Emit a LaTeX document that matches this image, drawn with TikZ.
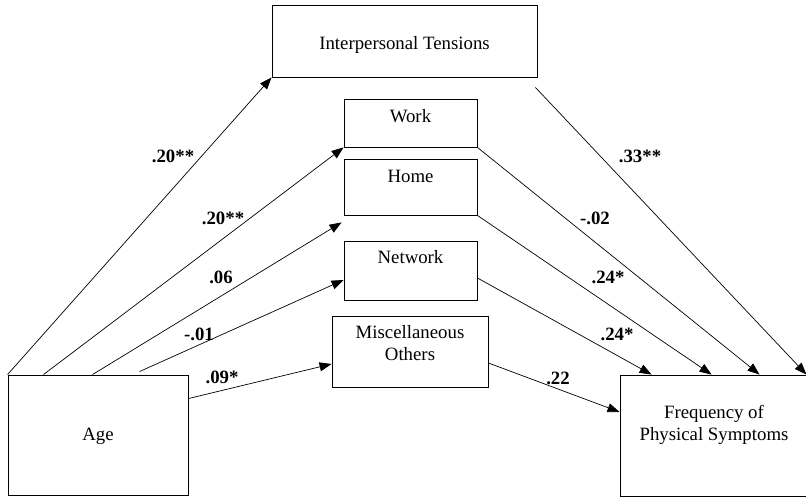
\documentclass[tikz,border=0pt]{standalone}
\usepackage{fontspec}
\setmainfont{Liberation Serif}
\usetikzlibrary{arrows.meta}

\begin{document}
\begin{tikzpicture}[x=1pt, y=1pt,
    every node/.style={font=\fontsize{18.8}{21.5}\selectfont},
    box/.style={draw, line width=0.9pt, inner sep=0pt, align=center},
    path/.style={line width=0.7pt, -{Triangle[length=12pt,width=9pt]}},
    coef/.style={font=\fontsize{18.8}{21.5}\selectfont\bfseries}]
    \useasboundingbox (0,0) rectangle (806,496);
    % variables
    \node[box, minimum width=265, text height=45, text depth=27] (tens) at (404.5,455) {Interpersonal Tensions};
    \node[box, minimum width=133, text height=24, text depth=24] (work) at (410.5,373) {Work};
    \node[box, minimum width=133, text height=24, text depth=32] (home) at (410.5,309) {Home};
    \node[box, minimum width=133, text height=22, text depth=37] (net) at (410.5,225.5) {Network};
    \node[box, minimum width=156, text height=44, text depth=27] (misc) at (410,144.5) {Miscellaneous\\Others};
    \node[box, minimum width=180, text height=65, text depth=55] (age) at (98,61) {Age};
    \node[box, minimum width=188, text height=65, text depth=56] (freq) at (714,60.5) {Frequency of\\Physical Symptoms};
    % paths from age
    \draw[path] (age.north west) -- (tens.south west);
    \draw[path] ([xshift=36]age.north west) -- (work.south west);
    \draw[path] ([xshift=85]age.north west) -- ([xshift=-2,yshift=-7]home.south west);
    \draw[path] ([xshift=132,yshift=3]age.north west) -- ([yshift=-9.5]net.west);
    \draw[path] ([yshift=-24]age.north east) -- ([yshift=-12.5]misc.west);
    % paths to symptoms
    \coordinate (tensout) at ([xshift=-2,yshift=-10]tens.south east);
    \draw[path] (tensout) -- ([xshift=-2]freq.north east);
    \draw[path] (work.south east) -- ([xshift=140]freq.north west);
    \draw[path] (home.south east) -- ([xshift=92]freq.north west);
    \draw[path] ([yshift=-7.5]net.east) -- ([xshift=32]freq.north west);
    \draw[path] ([yshift=-11.5]misc.east) -- ([yshift=23.5]freq.west);
    % coefficients
    \node[coef] (a1) at (173,340) {.20**};
    \node[coef] (a2) at (223,278) {.20**};
    \node[coef] (a3) at (221,219) {.06};
    \node[coef] (a4) at (199,162) {-.01};
    \node[coef] (a5) at (222,119) {.09*};
    \node[coef] (b1) at (640,340) {.33**};
    \node[coef] (b2) at (595,278) {-.02};
    \node[coef] (b3) at (608,219) {.24*};
    \node[coef] (b4) at (617,162) {.24*};
    \node[coef] (b5) at (558,118) {.22};
\end{tikzpicture}
\end{document}
